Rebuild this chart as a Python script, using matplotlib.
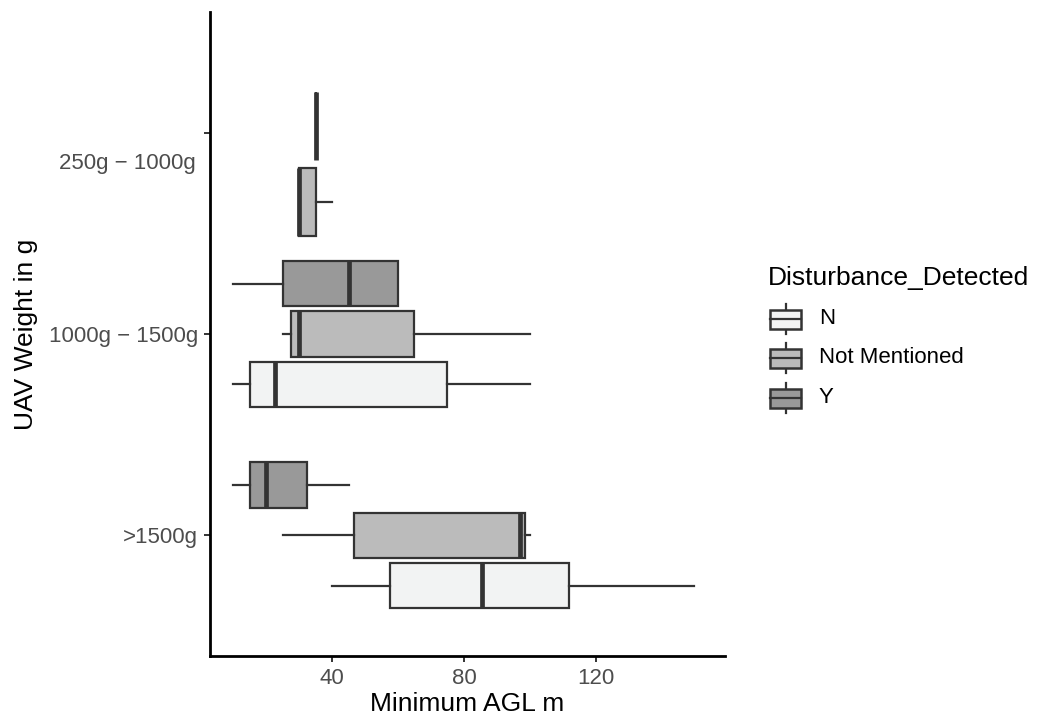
import matplotlib
matplotlib.use("Agg")
import matplotlib.pyplot as plt
from matplotlib.patches import Rectangle
from matplotlib.lines import Line2D

plt.rcParams['font.family'] = ['Liberation Sans', 'DejaVu Sans']

# Weight classes (bottom to top) and disturbance categories
groups = ['>1500g', '1000g \u2212 1500g', '250g \u2212 1000g']
statuses = ['N', 'Not Mentioned', 'Y']
fills = {'N': '#f2f3f3', 'Not Mentioned': '#bbbbbb', 'Y': '#999999'}

# Five-number summaries: (min, q1, median, q3, max) of Minimum AGL (m)
heavy = {'N': (40, 57.5, 85.5, 112, 150),
         'Not Mentioned': (25, 46.5, 97, 98.5, 100),
         'Y': (10, 15, 20, 32.5, 45)}
medium = {'N': (10, 15, 22.5, 75, 100),
          'Not Mentioned': (25, 27.5, 30, 65, 100),
          'Y': (10, 25, 45, 60, 60)}
light = {'Not Mentioned': (30, 30, 30, 35, 40),
         'Y': (35, 35, 35, 35, 35)}
summaries = [heavy, medium, light]
group_centers = [0.0, 1.0, 1.845]
tick_positions = [0, 1, 2]

edge = '#333333'
fig = plt.figure(figsize=(10.42, 7.22), dpi=100)
ax = fig.add_axes([210 / 1042, 66 / 722, 515 / 1042, 644 / 722])

dodge_width = 0.75
for center, summary in zip(group_centers, summaries):
    present = [s for s in statuses if s in summary]
    slot = dodge_width / len(present)
    for k, s in enumerate(present):
        lo, q1, med, q3, hi = summary[s]
        pos = center - dodge_width / 2 + slot * (k + 0.5)
        stats = [dict(whislo=lo, q1=q1, med=med, q3=q3, whishi=hi, fliers=[])]
        ax.bxp(stats, positions=[pos], widths=slot * 0.9,
               orientation='horizontal', patch_artist=True,
               showcaps=False, showfliers=False,
               boxprops=dict(facecolor=fills[s], edgecolor=edge, linewidth=1.6),
               whiskerprops=dict(color=edge, linewidth=1.6),
               medianprops=dict(color=edge, linewidth=3.4, solid_capstyle='butt'),
               manage_ticks=False)

ax.set_xlim(2.9, 159.3)
ax.set_ylim(-0.6, 2.6)
ax.set_xticks([40, 80, 120])
ax.set_yticks(tick_positions)
ax.set_yticklabels([groups[0], groups[1], ''])
ax.text(-0.027, group_centers[2], groups[2], transform=ax.get_yaxis_transform(),
        ha='right', va='center', fontsize=16, color='#4d4d4d')

for side in ('top', 'right'):
    ax.spines[side].set_visible(False)
for side in ('left', 'bottom'):
    ax.spines[side].set_linewidth(2.0)
    ax.spines[side].set_color('black')
ax.tick_params(axis='both', length=4.5, width=1.4, color=edge,
               labelsize=16, labelcolor='#4d4d4d', pad=4)

ax.set_xlabel('Minimum AGL m', fontsize=19, color='black', labelpad=2)
ax.set_ylabel('UAV Weight in g', fontsize=19, color='black', labelpad=8)

# Legend drawn with boxplot-style keys
def fx(px):
    return px / 1042


def fy(py):
    return 1 - py / 722


fig.text(fx(768), fy(285), 'Disturbance_Detected', fontsize=19,
         ha='left', va='baseline', color='black')
key_centers = [319, 358, 398]
for s, yc in zip(statuses, key_centers):
    fig.add_artist(Line2D([fx(785.5), fx(785.5)], [fy(yc - 15), fy(yc + 15)],
                          color=edge, linewidth=1.6, zorder=1))
    fig.add_artist(Rectangle((fx(770), fy(yc + 9.5)), fx(31), 19 / 722,
                             facecolor=fills[s], edgecolor=edge, linewidth=1.8,
                             transform=fig.transFigure, zorder=2))
    fig.add_artist(Line2D([fx(770), fx(801)], [fy(yc), fy(yc)],
                          color=edge, linewidth=1.6, zorder=3))
    fig.text(fx(819), fy(yc), s, fontsize=16, ha='left', va='center',
             color='black')

fig.savefig('out.png', dpi=100, facecolor='white')
